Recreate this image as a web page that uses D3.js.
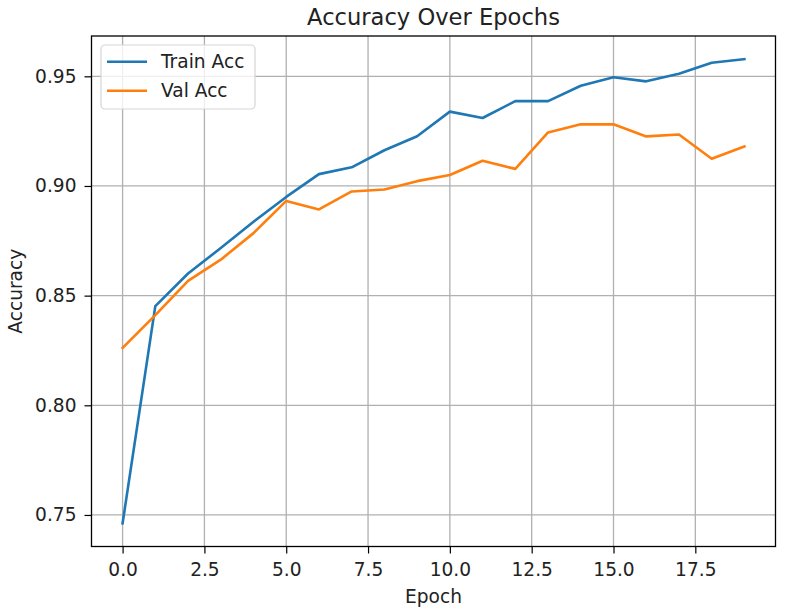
<!DOCTYPE html>
<html>
<head>
<meta charset="utf-8">
<script src="https://cdn.jsdelivr.net/npm/d3@7"></script>
<style>
  html, body { margin: 0; padding: 0; background: #fff; }
  svg { display: block; font-family: "DejaVu Sans", sans-serif; }
</style>
</head>
<body>
<svg id="chart" width="785" height="611"></svg>
<script>
const epochs = d3.range(0, 20);
const trainAcc = [0.7462, 0.8452, 0.8601, 0.8717, 0.8837, 0.8950, 0.9054, 0.9085, 0.9163, 0.9227,
                  0.9339, 0.9310, 0.9387, 0.9387, 0.9457, 0.9496, 0.9477, 0.9512, 0.9562, 0.9578];
const valAcc = [0.8262, 0.8411, 0.8567, 0.8664, 0.8785, 0.8932, 0.8893, 0.8975, 0.8984, 0.9022,
                0.9050, 0.9115, 0.9078, 0.9244, 0.9281, 0.9281, 0.9226, 0.9235, 0.9124, 0.9180];
const xTicks = [0, 2.5, 5, 7.5, 10, 12.5, 15, 17.5];
const yTicks = [0.75, 0.80, 0.85, 0.90, 0.95];
const seriesNames = ["Train Acc", "Val Acc"];
const colors = ["#1f77b4", "#ff7f0e"];

const FS = "18.6px";
const svg = d3.select("#chart");
const L = 91.5, R = 775.5, T = 36, B = 546.5;

const allVals = trainAcc.concat(valAcc);
const ymin = d3.min(allVals), ymax = d3.max(allVals);
const ypad = (ymax - ymin) * 0.05;
const x = d3.scaleLinear().domain([-0.95, 19.95]).range([L, R]);
const y = d3.scaleLinear().domain([ymin - ypad, ymax + ypad]).range([B, T]);

// grid
const g = svg.append("g");
g.selectAll(".vg").data(xTicks).enter().append("line")
  .attr("x1", d => x(d)).attr("x2", d => x(d)).attr("y1", T).attr("y2", B)
  .attr("stroke", "#b0b0b0").attr("stroke-width", 1.3);
g.selectAll(".hg").data(yTicks).enter().append("line")
  .attr("x1", L).attr("x2", R).attr("y1", d => y(d)).attr("y2", d => y(d))
  .attr("stroke", "#b0b0b0").attr("stroke-width", 1.3);

// lines
const line = d3.line().x((d, i) => x(epochs[i])).y(d => y(d));
[trainAcc, valAcc].forEach((s, k) => {
  svg.append("path").datum(s).attr("d", line)
    .attr("fill", "none").attr("stroke", colors[k]).attr("stroke-width", 2.6)
    .attr("stroke-linejoin", "round").attr("stroke-linecap", "square");
});

// axes
const xAxis = d3.axisBottom(x).tickValues(xTicks).tickFormat(d3.format(".1f")).tickSize(7);
const yAxis = d3.axisLeft(y).tickValues(yTicks).tickFormat(d3.format(".2f")).tickSize(7).tickPadding(8);
const xa = svg.append("g").attr("transform", `translate(0,${B})`).call(xAxis);
const ya = svg.append("g").attr("transform", `translate(${L},0)`).call(yAxis);
[xa, ya].forEach(a => {
  a.select(".domain").remove();
  a.selectAll(".tick line").attr("stroke", "#000").attr("stroke-width", 1.2);
  a.selectAll(".tick text").attr("fill", "#222").style("font-size", FS)
    .style("font-family", "'DejaVu Sans', sans-serif");
});
xa.selectAll(".tick text").attr("y", 29.5).attr("dy", 0);

// spines
svg.append("rect").attr("x", L).attr("y", T).attr("width", R - L).attr("height", B - T)
  .attr("fill", "none").attr("stroke", "#000").attr("stroke-width", 1.3);

// title & labels
svg.append("text").attr("x", (L + R) / 2).attr("y", 25).attr("text-anchor", "middle")
  .style("font-size", "22.6px").attr("fill", "#222").text("Accuracy Over Epochs");
svg.append("text").attr("x", (L + R) / 2).attr("y", 602.5).attr("text-anchor", "middle")
  .style("font-size", FS).attr("fill", "#222").text("Epoch");
svg.append("text").attr("transform", `translate(21.5,${(T + B) / 2}) rotate(-90)`)
  .attr("text-anchor", "middle").style("font-size", FS).attr("fill", "#222").text("Accuracy");

// legend
const lg = svg.append("g");
lg.append("rect").attr("x", 101).attr("y", 45).attr("width", 154).attr("height", 64)
  .attr("rx", 4).attr("fill", "rgba(255,255,255,0.8)").attr("stroke", "#d5d5d5").attr("stroke-width", 1.2);
seriesNames.forEach((n, k) => {
  const yy = 61.7 + k * 29;
  lg.append("line").attr("x1", 107).attr("x2", 147).attr("y1", yy).attr("y2", yy)
    .attr("stroke", colors[k]).attr("stroke-width", 2.6);
  lg.append("text").attr("x", 161).attr("y", yy).attr("dy", "0.35em")
    .style("font-size", FS).attr("fill", "#222").text(n);
});
</script>
</body>
</html>
